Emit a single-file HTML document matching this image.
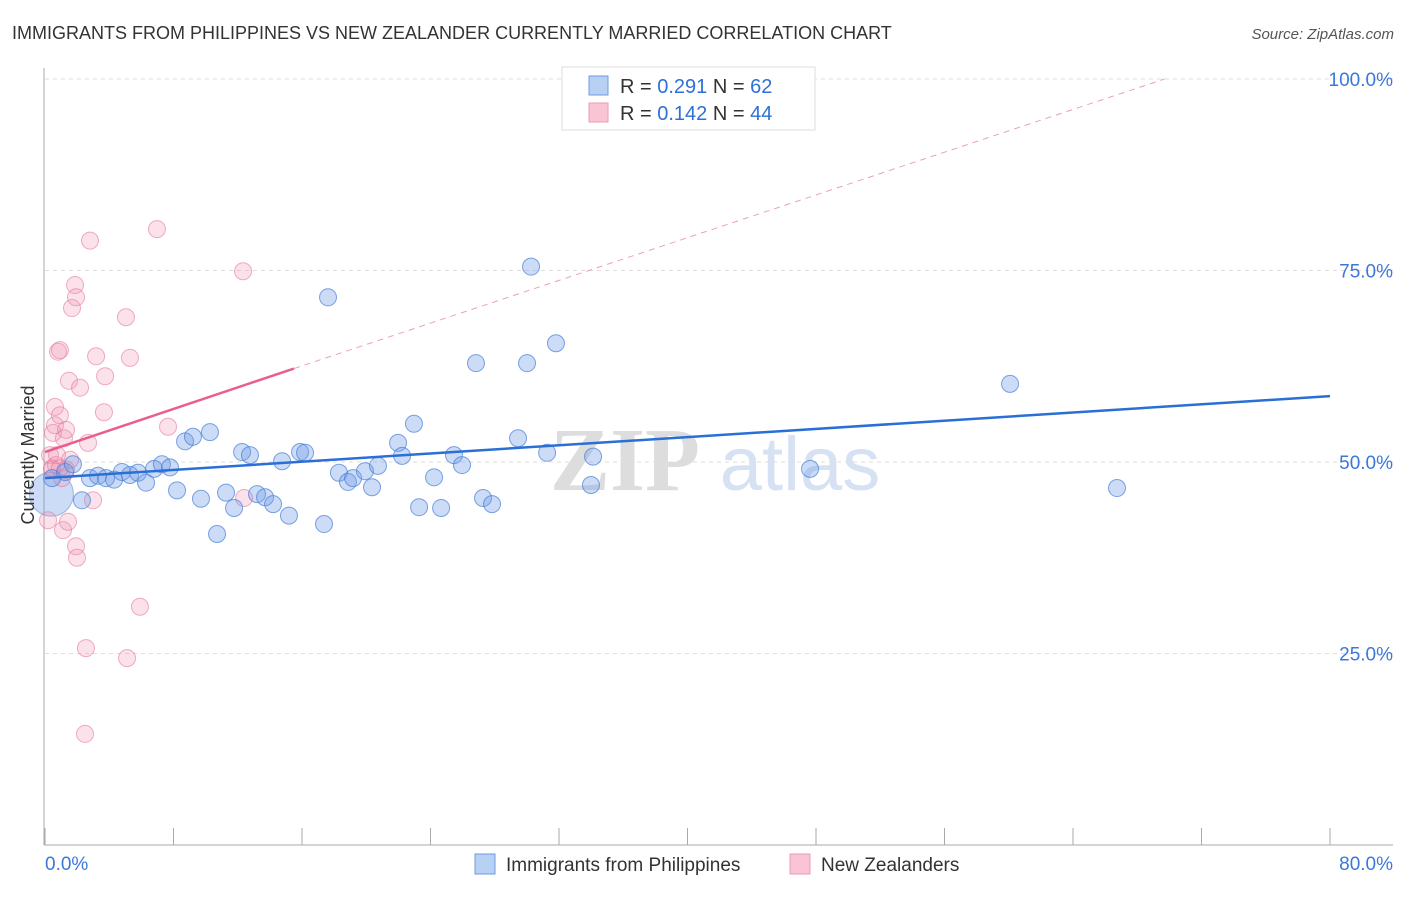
<!DOCTYPE html>
<html><head><meta charset="utf-8"><style>
body{margin:0;background:#fff;font-family:"Liberation Sans",sans-serif}
</style></head><body>
<svg width="1406" height="892" viewBox="0 0 1406 892" xmlns="http://www.w3.org/2000/svg" style="font-family:'Liberation Sans',sans-serif">
<text x="12" y="39" font-size="18" fill="#333">IMMIGRANTS FROM PHILIPPINES VS NEW ZEALANDER CURRENTLY MARRIED CORRELATION CHART</text>
<text x="1394" y="39" font-size="15" fill="#555" font-style="italic" text-anchor="end">Source: ZipAtlas.com</text>
<g font-size="90" text-anchor="middle">
<text x="625" y="490" fill="#ddd" font-family="Liberation Serif" font-weight="bold">ZIP</text>
<text x="800" y="490" fill="#d6e2f4" font-size="76">atlas</text>
</g>
<g id="grid"></g>
<g id="axes"></g>
<g id="marks"></g>
<text transform="translate(34,455) rotate(-90)" font-size="18" fill="#333" text-anchor="middle">Currently Married</text>
<g>
<rect x="562" y="67" width="253" height="63" fill="#fff" stroke="#ddd"/>
<rect x="589" y="76" width="19" height="19" fill="#b7d0f4" stroke="#6e9ae0"/>
<rect x="589" y="103" width="19" height="19" fill="#f9c5d5" stroke="#eb9ab5"/>
<text x="620" y="93" font-size="20" fill="#333">R = <tspan fill="#2e6fd8">0.291</tspan>   N = <tspan fill="#2e6fd8">62</tspan></text>
<text x="620" y="120" font-size="20" fill="#333">R = <tspan fill="#2e6fd8">0.142</tspan>   N = <tspan fill="#2e6fd8">44</tspan></text>
</g>
<g>
<rect x="475" y="854" width="20" height="20" fill="#b7d0f4" stroke="#6e9ae0"/>
<text x="506" y="871" font-size="19" fill="#333">Immigrants from Philippines</text>
<rect x="790" y="854" width="20" height="20" fill="#f9c5d5" stroke="#eb9ab5"/>
<text x="821" y="871" font-size="19" fill="#333">New Zealanders</text>
</g>
</svg>
<script>
const blueX=[0.44,1.25,1.74,2.30,2.80,3.30,3.80,4.30,4.79,5.29,5.79,6.29,6.79,7.28,7.78,8.22,8.72,9.21,9.71,10.27,10.71,11.27,11.77,12.27,12.76,13.20,13.70,14.20,14.76,15.19,15.88,16.19,17.37,17.62,18.30,18.86,19.18,19.92,20.36,20.73,21.98,22.23,22.97,23.29,24.22,24.66,25.46,25.96,26.83,27.27,27.83,29.45,30.01,30.26,31.26,31.81,33.99,34.12,47.63,60.08,66.74];
const blueY=[47.9,48.7,49.7,45.0,47.9,48.2,47.9,47.7,48.7,48.3,48.6,47.3,49.1,49.7,49.3,46.3,52.7,53.3,45.2,53.9,40.6,46.0,44.0,51.3,50.9,45.8,45.4,44.5,50.1,43.0,51.3,51.2,41.9,71.5,48.6,47.4,47.9,48.8,46.7,49.5,52.5,50.8,55.0,44.1,48.0,44.0,50.9,49.6,62.9,45.3,44.5,53.1,62.9,75.5,51.2,65.5,47.0,50.7,49.1,60.2,46.6];
const pinkX=[0.19,0.31,0.44,0.50,0.62,0.62,0.68,0.81,0.93,0.93,1.06,1.12,1.18,1.31,1.43,1.49,1.68,1.87,1.93,1.93,1.99,2.18,2.55,2.49,2.68,2.80,2.99,3.18,3.74,3.67,5.04,5.11,5.29,5.91,6.97,7.66,12.33,12.39,0.44,0.75,1.31,0.93,1.56];
const pinkY=[42.4,50.9,49.0,53.8,57.2,54.8,49.6,64.4,64.6,56.1,47.9,41.1,53.1,54.2,42.2,60.6,70.1,73.1,71.5,39.0,37.5,59.7,25.7,14.5,52.5,78.9,45.0,63.8,61.2,56.5,68.9,24.4,63.6,31.1,80.4,54.6,74.9,45.3,49.2,50.9,49.0,49.2,50.3];
const bigBlue=[0.4,45.8];
const blueTrend=[0,47.9,80,58.6];
const pinkTrend=[0,51.3,15.5,62.2];
const pinkDash=[15.5,62.2,69.7,100];
const yTicks=[100,75,50,25];
const yTickLabels=["100.0%","75.0%","50.0%","25.0%"];
const xTicks=[0,8,16,24,32,40,48,56,64,72,80];

const NS="http://www.w3.org/2000/svg";
const sx=v=>45+v*(1285/80);
const sy=v=>845-v*7.66;
function mk(p,t,a){const e=document.createElementNS(NS,t);for(const k in a)e.setAttribute(k,a[k]);p.appendChild(e);return e;}
const grid=document.getElementById('grid'),axes=document.getElementById('axes'),marks=document.getElementById('marks');
yTicks.forEach((t,i)=>{
 const l=mk(grid,'line',{x1:45,x2:1393,y1:sy(t),y2:sy(t),stroke:'#ddd','stroke-dasharray':'4,4'});
 
 
 const tx=mk(axes,'text',{x:1393,y:sy(t)+7,'font-size':19,fill:'#3b78d8','text-anchor':'end'});
 tx.textContent=yTickLabels[i];
 
 
});
let a=mk(axes,'line',{x1:44,x2:44,y1:68,y2:845,stroke:'#aaa'});


a=mk(axes,'line',{x1:44,x2:1393,y1:845,y2:845,stroke:'#aaa'});


xTicks.forEach(t=>{
 const l=mk(axes,'line',{x1:sx(t),x2:sx(t),y1:828,y2:845,stroke:'#aaa'});
 
 
});
let t=mk(axes,'text',{x:45,y:870,'font-size':19,fill:'#3b78d8'});t.textContent="0.0%";


t=mk(axes,'text',{x:1393,y:870,'font-size':19,fill:'#3b78d8','text-anchor':'end'});t.textContent="80.0%";



let c=mk(marks,'circle',{cx:sx(bigBlue[0]),cy:sy(bigBlue[1]),r:22,fill:'rgba(110,155,230,0.35)',stroke:'rgba(80,130,215,0.5)'});


pinkX.forEach((x,i)=>{
 const e=mk(marks,'circle',{cx:sx(x),cy:sy(pinkY[i]),r:8.5,fill:'rgba(242,150,180,0.28)',stroke:'rgba(230,120,160,0.6)'});
 
 
});
blueX.forEach((x,i)=>{
 const e=mk(marks,'circle',{cx:sx(x),cy:sy(blueY[i]),r:8.5,fill:'rgba(110,155,230,0.35)',stroke:'rgba(70,125,215,0.7)'});
 
 
});
let L=mk(marks,'line',{x1:sx(blueTrend[0]),y1:sy(blueTrend[1]),x2:sx(blueTrend[2]),y2:sy(blueTrend[3]),stroke:'#2a6fd6','stroke-width':2.5});


L=mk(marks,'line',{x1:sx(pinkTrend[0]),y1:sy(pinkTrend[1]),x2:sx(pinkTrend[2]),y2:sy(pinkTrend[3]),stroke:'#e8608a','stroke-width':2.5});


L=mk(marks,'line',{x1:sx(pinkDash[0]),y1:sy(pinkDash[1]),x2:sx(pinkDash[2]),y2:sy(pinkDash[3]),stroke:'#eba0b8','stroke-width':1,'stroke-dasharray':'6,5'});


</script>
</body></html>
